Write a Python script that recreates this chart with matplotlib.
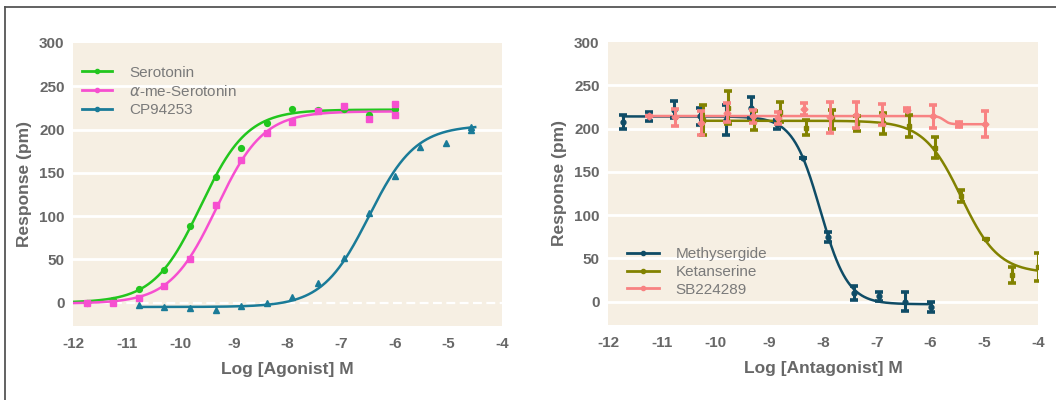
import numpy as np
import matplotlib
matplotlib.use("Agg")
import matplotlib.pyplot as plt
from matplotlib.lines import Line2D

plt.rcParams['font.family'] = ['Liberation Sans', 'DejaVu Sans']
plt.rcParams['axes.unicode_minus'] = False

# ---------------- data: agonist panel ----------------
agonist_x = [-11.73, -11.25, -10.77, -10.30, -9.82, -9.34, -8.86, -8.39, -7.91, -7.43, -6.95, -6.48, -6.00]
serotonin_y = [0, 3, 16, 38, 88, 145, 179, 208, 224, 223, 224, 217, 224]

alpha_x = [-11.73, -11.25, -10.77, -10.30, -9.82, -9.34, -8.86, -8.39, -7.91, -7.43, -6.95, -6.48, -6.00, -6.00]
alpha_y = [0, -1, 5, 19, 50, 113, 165, 196, 209, 222, 227, 212, 230, 217]

cp_x = [-10.77, -10.30, -9.82, -9.34, -8.86, -8.39, -7.91, -7.43, -6.95, -6.48, -6.00, -5.52, -5.05, -4.57, -4.57]
cp_y = [-3, -5, -6, -8, -4, 0, 7, 23, 51, 103, 146, 180, 185, 203, 200]

agonist_names = ["Serotonin", r"$\alpha$-me-Serotonin", "CP94253"]
# four-parameter logistic fit parameters for each agonist curve
ago_bottom = [0, -1, -5]
ago_top = [223, 221, 205]
ago_logec50 = [-9.62, -9.32, -6.48]
ago_hill = [1.0, 1.0, 1.0]
ago_xmin = [-12.0, -12.0, -10.77]
ago_xmax = [-6.0, -6.0, -4.5]

# ---------------- data: antagonist panel ----------------
meth_x = [-11.72, -11.24, -10.77, -10.29, -9.81, -9.34, -8.86, -8.38, -7.91, -7.43, -6.95, -6.48, -6.00]
meth_y = [208, 214, 222, 214, 210, 224, 205, 166, 75, 10, 6, 0, -6]
meth_err = [8, 5, 10, 10, 17, 12, 5, 0, 6, 8, 5, 11, 6]

keta_x = [-10.24, -9.76, -9.28, -8.80, -8.32, -7.84, -7.36, -6.88, -6.40, -5.92, -5.44, -4.96, -4.48, -4.00]
keta_y = [210, 224, 209, 219, 201, 211, 206, 206, 203, 178, 122, 72, 31, 40]
keta_err = [17, 19, 11, 12, 9, 11, 9, 12, 13, 12, 7, 0, 9, 16]

sb_x = [-11.23, -10.75, -10.27, -9.79, -9.31, -8.83, -8.35, -7.87, -7.39, -6.91, -6.43, -5.95, -5.47, -4.99]
sb_y = [214, 213, 206, 218, 214, 212, 223, 213, 216, 216, 222, 214, 205, 205]
sb_err = [0, 10, 14, 11, 8, 7, 7, 18, 15, 12, 2, 13, 3, 15]

antagonist_names = ["Methysergide", "Ketanserine", "SB224289"]
ant_bottom = [-3, 33, 205]
ant_top = [214, 209, 214.5]
ant_logic50 = [-8.05, -5.43, -5.75]
ant_hill = [1.7, 1.25, 8.0]
ant_xmin = [-11.72, -10.24, -11.23]
ant_xmax = [-6.0, -4.0, -4.99]

yticks = [0, 50, 100, 150, 200, 250, 300]
xticks = [-12, -11, -10, -9, -8, -7, -6, -5, -4]

# ---------------- style ----------------
BG = '#f6efe3'
TICK_C = '#676767'
LEG_C = '#7a7a7a'
ago_colors = ['#22c61e', '#f64fd0', '#1a7b98']
ago_markers = ['o', 's', '^']
ant_colors = ['#0f4c66', '#828200', '#f88282']
ant_markers = ['o', 's', 'D']


def logistic(x, b, t, c, h):
    return b + (t - b) / (1.0 + 10 ** ((c - x) * h))


def style_axes(ax, xlabel, dashed_zero):
    ax.set_facecolor(BG)
    for s in ax.spines.values():
        s.set_visible(False)
    ax.set_xlim(-12, -4)
    ax.set_ylim(-27, 300)
    ax.set_xticks(xticks)
    ax.set_yticks(yticks)
    ax.tick_params(length=0, labelsize=11, labelcolor=TICK_C)
    ax.tick_params(axis='x', pad=8)
    ax.tick_params(axis='y', pad=6)
    for lab in ax.get_xticklabels() + ax.get_yticklabels():
        lab.set_fontweight('bold')
    for yv in yticks[1:-1]:
        ax.axhline(yv, color='white', lw=2, zorder=0.5)
    if dashed_zero:
        ax.axhline(0, color='white', lw=1.6, ls=(0, (4, 2)), zorder=0.5)
    else:
        ax.axhline(0, color='white', lw=2, zorder=0.5)
    ax.set_xlabel(xlabel, fontsize=12.5, fontweight='bold', color=TICK_C, labelpad=8)
    ax.set_ylabel("Response (pm)", fontsize=12.5, fontweight='bold', color=TICK_C, labelpad=5)


fig = plt.figure(figsize=(10.56, 4.0), dpi=100)
fig.patch.set_facecolor('white')

ax1 = fig.add_axes([73 / 1056, 1 - 326 / 400, 429 / 1056, 283 / 400])
ax2 = fig.add_axes([608 / 1056, 1 - 325 / 400, 430 / 1056, 283 / 400])

style_axes(ax1, "Log [Agonist] M", True)
style_axes(ax2, "Log [Antagonist] M", False)

# ---- agonist panel ----
ago_data = [(agonist_x, serotonin_y), (alpha_x, alpha_y), (cp_x, cp_y)]
handles = []
for i, (xs, ys) in enumerate(ago_data):
    xf = np.linspace(ago_xmin[i], ago_xmax[i], 300)
    yf = logistic(xf, ago_bottom[i], ago_top[i], ago_logec50[i], ago_hill[i])
    ax1.plot(xf, yf, color=ago_colors[i], lw=1.8, zorder=3)
    ax1.plot(xs, ys, ls='none', marker=ago_markers[i], ms=4.5 if i else 4.2,
             color=ago_colors[i], zorder=4)
    handles.append(Line2D([], [], color=ago_colors[i], lw=2, marker='o', ms=3))
leg1 = ax1.legend(handles, agonist_names, loc='upper left', bbox_to_anchor=(0.02, 0.92),
                  frameon=False, fontsize=11, handlelength=2.0, handletextpad=1.1,
                  labelspacing=0.27, borderaxespad=0, borderpad=0)
for t in leg1.get_texts():
    t.set_color(LEG_C)

# ---- antagonist panel ----
ant_data = [(meth_x, meth_y, meth_err), (keta_x, keta_y, keta_err), (sb_x, sb_y, sb_err)]
handles2 = []
for i, (xs, ys, es) in enumerate(ant_data):
    xf = np.linspace(ant_xmin[i], ant_xmax[i], 400)
    yf = logistic(xf, ant_bottom[i], ant_top[i], ant_logic50[i], -ant_hill[i])
    ax2.plot(xf, yf, color=ant_colors[i], lw=1.8, zorder=3 + i * 0.1)
    ax2.errorbar(xs, ys, yerr=es, ls='none', marker=ant_markers[i], ms=3.5,
                 color=ant_colors[i], ecolor=ant_colors[i], elinewidth=2.2,
                 capsize=3, capthick=2.6, zorder=4 + i * 0.1)
    handles2.append(Line2D([], [], color=ant_colors[i], lw=2, marker='o', ms=3))
leg2 = ax2.legend(handles2, antagonist_names, loc='upper left', bbox_to_anchor=(0.044, 0.275),
                  frameon=False, fontsize=11, handlelength=2.1, handletextpad=1.1,
                  labelspacing=0.25, borderaxespad=0, borderpad=0)
for t in leg2.get_texts():
    t.set_color(LEG_C)

# outer frame (top and left edges visible)
fig.add_artist(Line2D([5 / 1056, 5 / 1056], [0, 1 - 7 / 400], transform=fig.transFigure,
                      color='#555555', lw=1.3))
fig.add_artist(Line2D([5 / 1056, 1], [1 - 7 / 400, 1 - 7 / 400], transform=fig.transFigure,
                      color='#555555', lw=1.3))

fig.savefig("out.png", dpi=100, facecolor='white')
